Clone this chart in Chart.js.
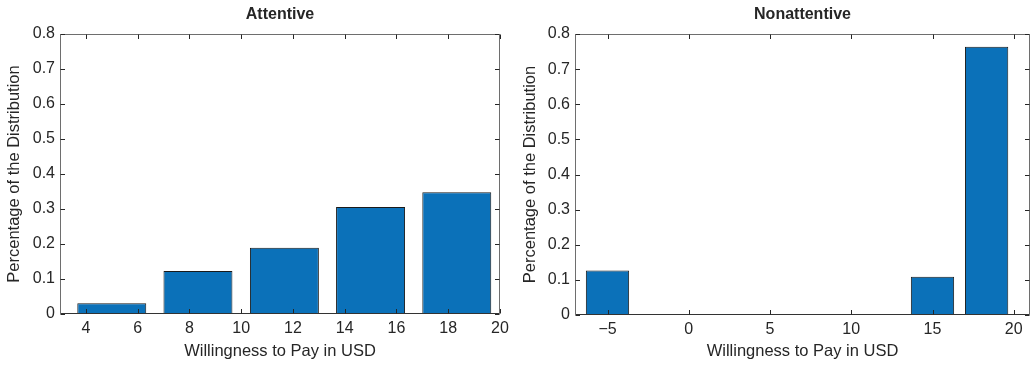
<!DOCTYPE html>
<html>
<head>
<meta charset="utf-8">
<script src="https://cdn.jsdelivr.net/npm/chart.js@4"></script>
<style>
  html, body { margin: 0; padding: 0; background: #fff; }
  #wrap { position: relative; width: 1033px; height: 365px; overflow: hidden; }
  .panel { position: absolute; top: 0; height: 365px; }
</style>
</head>
<body>
<div id="wrap">
  <div class="panel" style="left:0;width:516px"><canvas id="attentive"></canvas></div>
  <div class="panel" style="left:516px;width:517px"><canvas id="nonattentive"></canvas></div>
</div>
<script>
// Histogram bin centres (USD) and share of respondents in each bin
const attentiveBins = [5, 8.33, 11.67, 15, 18.33];
const attentiveShare = [0.031, 0.123, 0.189, 0.306, 0.348];

const nonattentiveBins = [-5, -1.67, 1.67, 5, 8.33, 11.67, 15, 18.33];
const nonattentiveShare = [0.127, 0, 0, 0, 0, 0, 0.109, 0.764];

// Axis tick positions
const attentiveTicks = [4, 6, 8, 10, 12, 14, 16, 18, 20];
const nonattentiveTicks = [-5, 0, 5, 10, 15, 20];
const shareTicks = [0, 0.1, 0.2, 0.3, 0.4, 0.5, 0.6, 0.7, 0.8];

const FONT = '"Liberation Sans", Arial, Helvetica, sans-serif';
const TEXT = '#262626';
const BAR = '#0b71b9';

// Box around the plot with inward tick marks on all four sides, plus the panel title
const framePlugin = {
  id: 'frame',
  afterDatasetsDraw(chart, args, opts) {
    const { ctx, chartArea: a, scales: { x, y } } = chart;
    const L = Math.round(a.left) + 0.5, R = Math.round(a.right) - 0.5;
    const T = Math.round(a.top) + 0.5, B = Math.round(a.bottom) - 0.5;
    const len = 4.5;
    ctx.save();
    ctx.lineWidth = 1;
    // box
    ctx.strokeStyle = '#6e6e6e';
    ctx.beginPath();
    ctx.moveTo(L, B); ctx.lineTo(L, T); ctx.lineTo(R, T); ctx.lineTo(R, B);
    ctx.stroke();
    ctx.strokeStyle = '#333';
    ctx.beginPath();
    ctx.moveTo(L, B); ctx.lineTo(R, B);
    ctx.stroke();
    // ticks
    ctx.strokeStyle = TEXT;
    ctx.beginPath();
    x.ticks.forEach(t => {
      const px = Math.round(x.getPixelForValue(t.value)) + 0.5;
      ctx.moveTo(px, B); ctx.lineTo(px, B - len);
      ctx.moveTo(px, T); ctx.lineTo(px, T + len);
    });
    y.ticks.forEach(t => {
      const py = Math.round(y.getPixelForValue(t.value)) + 0.5;
      ctx.moveTo(L, py); ctx.lineTo(L + len, py);
      ctx.moveTo(R, py); ctx.lineTo(R - len, py);
    });
    ctx.stroke();
    // title
    ctx.font = 'bold 16px ' + FONT;
    ctx.fillStyle = TEXT;
    ctx.textAlign = 'center';
    ctx.textBaseline = 'middle';
    ctx.fillText(opts.text, (a.left + a.right) / 2, 14.5);
    ctx.restore();
  }
};

function fmtUSD(v) {
  return v < 0 ? '\u2212' + Math.abs(v) : String(v);
}

function makePanel(id, title, bins, shares, xTicks, xMin, xMax, plot) {
  new Chart(document.getElementById(id), {
    type: 'bar',
    data: {
      datasets: [{
        xAxisID: 'bins',
        data: bins.map((b, i) => ({ x: b, y: shares[i] })),
        backgroundColor: BAR,
        borderColor: '#1a1a1a',
        borderWidth: 1,
        borderSkipped: false,
        barPercentage: 1,
        categoryPercentage: 0.8
      }]
    },
    options: {
      responsive: true,
      maintainAspectRatio: false,
      animation: false,
      layout: { padding: { top: plot.top, right: plot.right, left: 0, bottom: 0 } },
      plugins: {
        legend: { display: false },
        tooltip: { enabled: false },
        frame: { text: title }
      },
      scales: {
        // hidden axis carrying the bins, so bar width follows bin spacing
        bins: {
          type: 'linear',
          position: 'bottom',
          display: false,
          min: xMin,
          max: xMax,
          offset: false,
          afterBuildTicks: s => { s.ticks = bins.map(v => ({ value: v })); }
        },
        x: {
          type: 'linear',
          position: 'bottom',
          min: xMin,
          max: xMax,
          offset: false,
          grid: { display: false, drawTicks: false },
          border: { display: false },
          afterBuildTicks: s => { s.ticks = xTicks.map(v => ({ value: v })); },
          afterFit: s => { s.height = plot.xAxisHeight; },
          ticks: {
            autoSkip: false,
            maxRotation: 0,
            padding: 4.5,
            color: TEXT,
            font: { family: FONT, size: 16 },
            callback: v => fmtUSD(v)
          },
          title: {
            display: true,
            text: 'Willingness to Pay in USD',
            color: TEXT,
            font: { family: FONT, size: 16.5 },
            padding: { top: 0, bottom: 4 }
          }
        },
        y: {
          type: 'linear',
          min: 0,
          max: 0.8,
          grid: { display: false, drawTicks: false },
          border: { display: false },
          afterBuildTicks: s => { s.ticks = shareTicks.map(v => ({ value: v })); },
          afterFit: s => { s.width = plot.left; },
          ticks: {
            padding: 5,
            color: TEXT,
            font: { family: FONT, size: 16 },
            callback: v => (v === 0 ? '0' : v.toFixed(1))
          },
          title: {
            display: true,
            text: 'Percentage of the Distribution',
            color: TEXT,
            font: { family: FONT, size: 16.5 },
            padding: { top: 5, bottom: 0 }
          }
        }
      }
    },
    plugins: [framePlugin]
  });
}

makePanel('attentive', 'Attentive', attentiveBins, attentiveShare, attentiveTicks, 3, 20,
  { top: 34, right: 16, left: 60, xAxisHeight: 51 });
makePanel('nonattentive', 'Nonattentive', nonattentiveBins, nonattentiveShare, nonattentiveTicks, -7, 21,
  { top: 34, right: 3, left: 59, xAxisHeight: 50 });
</script>
</body>
</html>
